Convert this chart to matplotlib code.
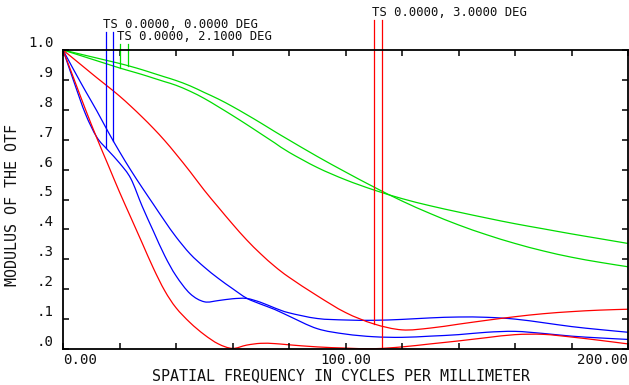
import numpy as np
import matplotlib
matplotlib.use('Agg')
import matplotlib.pyplot as plt
from matplotlib.path import Path
from matplotlib.patches import PathPatch

# Spatial frequency samples (cycles/mm)
freq = [0, 4, 8, 12, 16, 20, 24, 28, 32, 36, 40, 45, 50, 55, 60, 65, 70, 75, 80, 90,
        100, 110, 120, 130, 140, 150, 160, 170, 180, 190, 200]

# 0.0 deg field (blue)
mtf_0_t = [1.0, 0.89, 0.785, 0.708, 0.664, 0.622, 0.57, 0.478, 0.394, 0.312,
           0.245, 0.185, 0.158, 0.162, 0.168, 0.169, 0.156, 0.137, 0.121, 0.102,
           0.097, 0.096, 0.099, 0.104, 0.107, 0.106, 0.1, 0.088, 0.075, 0.065, 0.056]
mtf_0_s = [1.0, 0.93, 0.862, 0.796, 0.726, 0.66, 0.598, 0.54, 0.484, 0.428,
           0.375, 0.318, 0.274, 0.236, 0.202, 0.17, 0.15, 0.132, 0.11, 0.068,
           0.05, 0.041, 0.039, 0.043, 0.048, 0.056, 0.059, 0.052, 0.043, 0.037, 0.032]

# 2.1 deg field (green)
mtf_21_t = [1.0, 0.988, 0.976, 0.964, 0.952, 0.94, 0.929, 0.918, 0.906, 0.894,
            0.882, 0.862, 0.838, 0.81, 0.781, 0.751, 0.72, 0.689, 0.658, 0.607,
            0.566, 0.532, 0.503, 0.479, 0.458, 0.438, 0.419, 0.402, 0.385, 0.369, 0.353]
mtf_21_s = [1.0, 0.991, 0.982, 0.973, 0.964, 0.955, 0.945, 0.934, 0.922, 0.91,
            0.898, 0.88, 0.858, 0.836, 0.811, 0.784, 0.756, 0.727, 0.699, 0.644,
            0.592, 0.542, 0.495, 0.453, 0.415, 0.382, 0.353, 0.328, 0.307, 0.29, 0.275]

# 3.0 deg field (red)
mtf_30_t = [1.0, 0.969, 0.938, 0.907, 0.877, 0.846, 0.812, 0.776, 0.738, 0.697,
            0.652, 0.593, 0.531, 0.474, 0.418, 0.365, 0.318, 0.276, 0.24, 0.178,
            0.122, 0.084, 0.064, 0.07, 0.083, 0.096, 0.108, 0.118, 0.125, 0.13, 0.133]
mtf_30_s = [1.0, 0.90, 0.80, 0.705, 0.615, 0.525, 0.44, 0.355, 0.27, 0.195,
            0.138, 0.088, 0.048, 0.017, 0.002, 0.013, 0.019, 0.018, 0.014, 0.007,
            0.003, 0.001, 0.007, 0.017, 0.027, 0.038, 0.048, 0.049, 0.04, 0.029, 0.017]

field_labels = ['TS 0.0000, 0.0000 DEG', 'TS 0.0000, 2.1000 DEG', 'TS 0.0000, 3.0000 DEG']
field_colors = ['#0000ff', '#00dd00', '#ff0000']
# frequencies where the legend pointer lines touch the T and S curves
marker_freqs = [[15.2, 17.8], [20.2, 22.9], [110.1, 112.8]]

xtick_vals = list(range(0, 201, 20))
xtick_labels = ['0.00', '', '', '', '', '100.00', '', '', '', '', '200.00']
ytick_vals = [i / 10 for i in range(11)]
ytick_labels = ['.0', '.1', '.2', '.3', '.4', '.5', '.6', '.7', '.8', '.9', '1.0']

plt.rcParams['font.family'] = ['DejaVu Sans Mono']
text_col = '#111111'


def smooth_path(xs, ys):
    # Catmull-Rom through the sample points, as cubic Bezier segments
    pts = np.column_stack([xs, ys]).astype(float)
    n = len(pts)
    verts = [pts[0]]
    codes = [Path.MOVETO]
    for i in range(n - 1):
        p0 = pts[max(i - 1, 0)]
        p1 = pts[i]
        p2 = pts[i + 1]
        p3 = pts[min(i + 2, n - 1)]
        verts += [p1 + (p2 - p0) / 6, p2 - (p3 - p1) / 6, p2]
        codes += [Path.CURVE4] * 3
    return Path(verts, codes)


fig = plt.figure(figsize=(6.29, 3.85), dpi=100)
ax = fig.add_axes([63 / 629, 36 / 385, 565 / 629, 299 / 385])

curves = [(mtf_0_t, mtf_0_s), (mtf_21_t, mtf_21_s), (mtf_30_t, mtf_30_s)]
for (t, s), col in zip(curves, field_colors):
    for c in (t, s):
        ax.add_patch(PathPatch(smooth_path(freq, c), facecolor='none',
                               edgecolor=col, lw=0.9, clip_on=False))

# legend pointer lines + labels above the plot
line_tops = [1.060, 1.020, 1.100]
label_pos = [(14.2, 1.0736), (19.1, 1.0334), (109.4, 1.1137)]
for i in range(3):
    t, s = curves[i]
    for f, c in zip(marker_freqs[i], (t, s)):
        yv = np.interp(f, freq, c)
        ax.plot([f, f], [yv, line_tops[i]], color=field_colors[i], lw=0.9, clip_on=False)
    ax.text(label_pos[i][0], label_pos[i][1], field_labels[i], fontsize=8.8,
            color=text_col, ha='left', va='baseline')

ax.set_xlim(0, 200)
ax.set_ylim(0, 1.0)
ax.set_xticks(xtick_vals)
ax.set_xticklabels(xtick_labels)
ax.set_yticks(ytick_vals)
ax.set_yticklabels(ytick_labels)
ax.tick_params(axis='both', direction='in', length=4, width=1.1, colors='black',
               labelcolor=text_col, labelsize=10.2, top=True, right=True)
ax.tick_params(axis='x', pad=3)
ax.tick_params(axis='y', pad=6.5)
xl = ax.get_xticklabels()
xl[0].set_horizontalalignment('left')
xl[-1].set_horizontalalignment('right')
for lab in ax.get_yticklabels():
    lab.set_verticalalignment('bottom')

for sp in ax.spines.values():
    sp.set_linewidth(1.3)
    sp.set_color('black')

fig.text(341 / 629, 1 - 375.5 / 385, 'SPATIAL FREQUENCY IN CYCLES PER MILLIMETER',
         fontsize=10.8, color=text_col, ha='center', va='center')
fig.text(13 / 629, 1 - 205 / 385, 'MODULUS OF THE OTF', fontsize=10.8,
         color=text_col, rotation=90, ha='center', va='center')

fig.savefig('out.png', dpi=100)
plt.close(fig)
